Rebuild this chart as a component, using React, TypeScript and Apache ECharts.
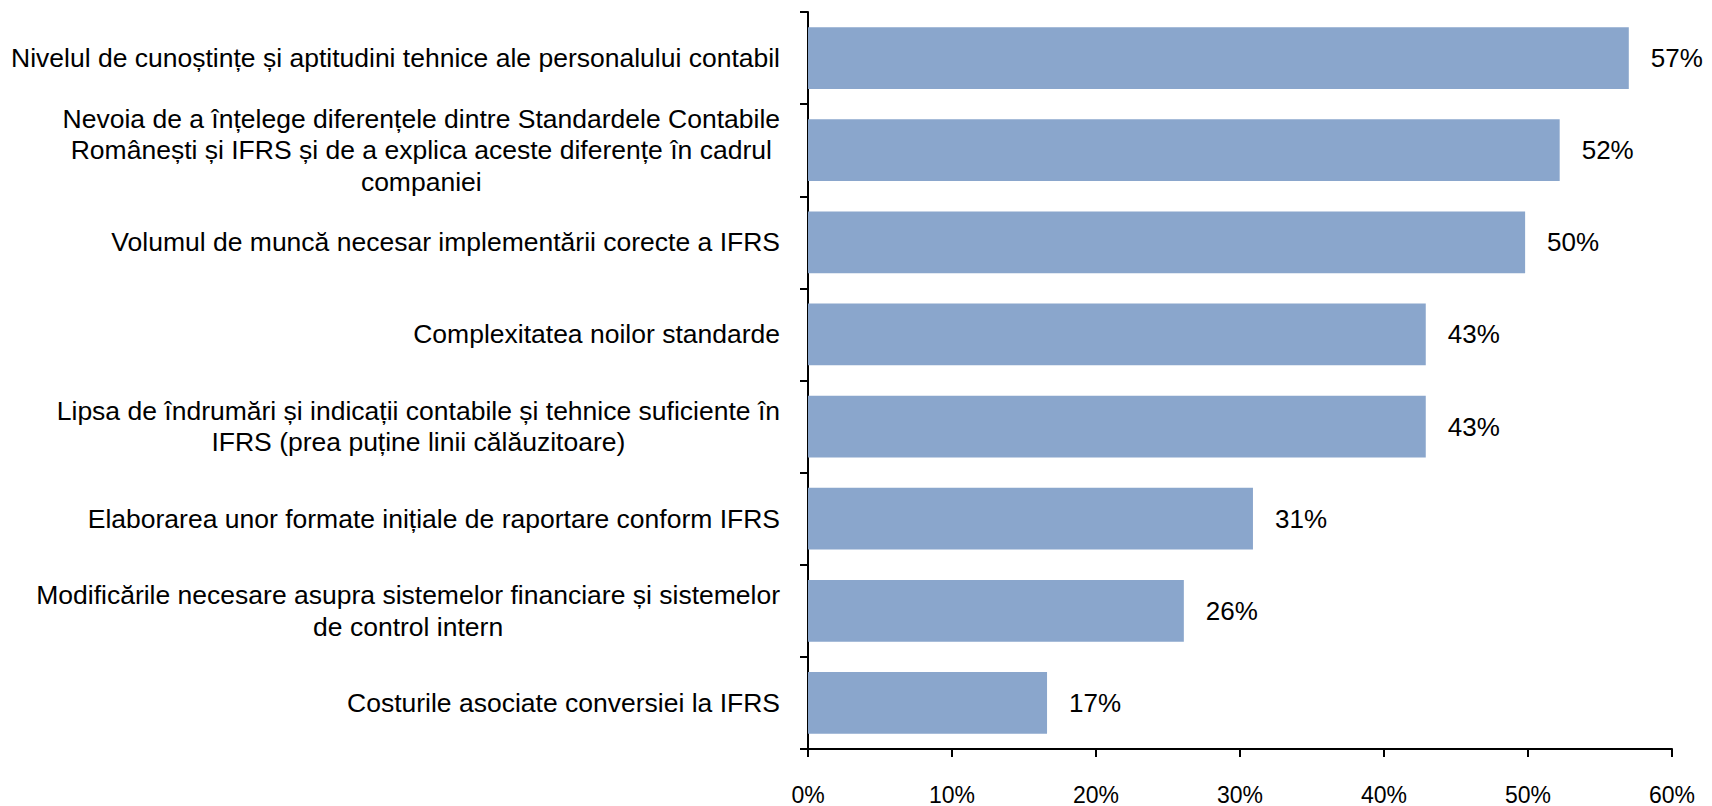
import React, { useEffect, useRef } from "react";
import * as echarts from "echarts";

const categories: string[] = [
  "Nivelul de cunoștințe și aptitudini tehnice ale personalului contabil",
  "Nevoia de a înțelege diferențele dintre Standardele Contabile\nRomânești și IFRS și de a explica aceste diferențe în cadrul\ncompaniei",
  "Volumul de muncă necesar implementării corecte a IFRS",
  "Complexitatea noilor standarde",
  "Lipsa de îndrumări și indicații contabile și tehnice suficiente în\nIFRS (prea puține linii călăuzitoare)",
  "Elaborarea unor formate inițiale de raportare conform IFRS",
  "Modificările necesare asupra sistemelor financiare și sistemelor\nde control intern",
  "Costurile asociate conversiei la IFRS",
];

const values: number[] = [57.0, 52.2, 49.8, 42.9, 42.9, 30.9, 26.1, 16.6];

const FONT = "'Liberation Sans', Arial, sans-serif";

export default function App() {
  const ref = useRef<HTMLDivElement>(null);
  useEffect(() => {
    if (!ref.current) return;
    const chart = echarts.init(ref.current, null, { renderer: "svg" });
    chart.setOption({
      animation: false,
      grid: { left: 808, right: 40, top: 12, bottom: 55, containLabel: false },
      xAxis: {
        type: "value",
        min: 0,
        max: 60,
        interval: 10,
        axisLine: { show: true, lineStyle: { color: "#000", width: 2 } },
        axisTick: { show: true, length: 8, lineStyle: { color: "#000", width: 2 } },
        splitLine: { show: false },
        axisLabel: {
          formatter: "{value}%",
          color: "#000",
          fontFamily: FONT,
          fontSize: 23,
          margin: 34,
        },
      },
      yAxis: {
        type: "category",
        inverse: true,
        data: categories,
        axisLine: { show: true, lineStyle: { color: "#000", width: 2 } },
        axisTick: { show: true, length: 8, lineStyle: { color: "#000", width: 2 } },
        axisLabel: {
          color: "#000",
          fontFamily: FONT,
          fontSize: 26.5,
          lineHeight: 31.5,
          margin: 28,
          formatter: (v: string) =>
            v
              .split("\n")
              .map((l) => "{c|" + l + "}")
              .join("\n"),
          rich: {
            c: {
              align: "center",
              color: "#000",
              fontFamily: FONT,
              fontSize: 26.5,
              lineHeight: 31.5,
            },
          },
        },
      },
      series: [
        {
          type: "bar",
          data: values,
          barCategoryGap: "33%",
          itemStyle: { color: "#8aa6cc" },
          label: {
            show: true,
            position: "right",
            distance: 22,
            color: "#000",
            fontFamily: FONT,
            fontSize: 26,
            formatter: (p: any) => Math.round(p.value) + "%",
          },
        },
      ],
    });
    return () => chart.dispose();
  }, []);
  return <div ref={ref} style={{ width: 1712, height: 806, position: "absolute", left: 0, top: 0 }} />;
}
